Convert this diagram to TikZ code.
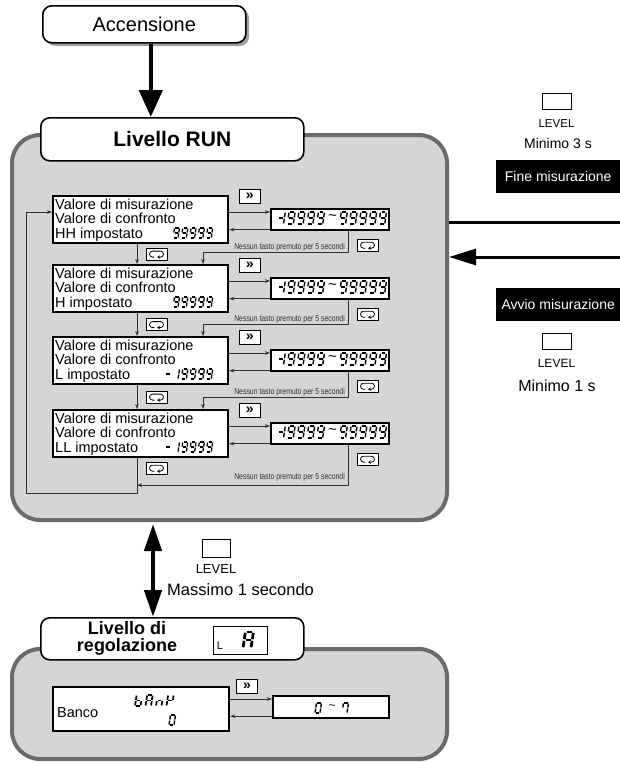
\documentclass[tikz,border=0pt]{standalone}
\usepackage{fontspec}
\setmainfont{Liberation Sans}
\newfontfamily\narrowfont[FakeStretch=0.8]{Liberation Sans}
\usetikzlibrary{arrows.meta,calc}

\definecolor{panelfill}{HTML}{D5D5D7}
\definecolor{panelrim}{HTML}{6B6B6B}
\definecolor{shadowgray}{HTML}{A0A0A0}
\definecolor{linkgray}{HTML}{303030}

% one segment of a seven-segment glyph (unit cell: width 1, height 2)
\newcommand\segpath[1]{%
  \if#1a\draw[segl] (0.18,2) -- (0.82,2);\fi
  \if#1b\draw[segl] (1,1.9) -- (1,1.1);\fi
  \if#1c\draw[segl] (1,0.9) -- (1,0.1);\fi
  \if#1d\draw[segl] (0.18,0) -- (0.82,0);\fi
  \if#1e\draw[segl] (0,0.9) -- (0,0.1);\fi
  \if#1f\draw[segl] (0,1.9) -- (0,1.1);\fi
  \if#1g\draw[segl] (0.18,1) -- (0.82,1);\fi}

% seven-segment string: #1 lower-left point, #2 height, #3 pitch, #4 stroke, #5 glyphs
\newcommand\sevseg[5]{%
  \begin{scope}[shift={#1}]
    \foreach \gl [count=\ci from 0] in {#5}{%
      \begin{scope}[xshift=\ci*#3, xscale=0.5*#2, yscale=-0.5*#2, xslant=-0.15, line width=#4]
        \foreach \s in \gl {\segpath{\s}}
      \end{scope}}
  \end{scope}}

\tikzset{
  panel/.style={fill=panelfill, draw=panelrim, line width=4pt, rounded corners=28pt, inner sep=0pt},
  header/.style={draw=black, fill=white, line width=1.6pt, rounded corners=9pt, inner sep=0pt},
  dispbox/.style={draw=black, fill=white, line width=2.2pt, inner sep=0pt},
  keybox/.style={draw=black, fill=white, line width=0.9pt, minimum width=21pt, minimum height=12pt, inner sep=0pt},
  levelkey/.style={draw=black, fill=white, line width=0.8pt, minimum width=29pt, minimum height=16pt, inner sep=0pt},
  conn/.style={draw=linkgray, line width=0.9pt, -{Stealth[length=5pt,width=3.6pt]}},
  heavy/.style={line width=4.5pt},
  segl/.style={line cap=butt},
  boxtxt/.style={font=\fontsize{14.5}{15}\selectfont, inner sep=0pt, anchor=base west},
  nessun/.style={font=\narrowfont\fontsize{8.6}{9}\selectfont, text=linkgray, inner sep=0pt, anchor=base east},
  lbl/.style={inner sep=0pt, anchor=base},
  blackband/.style={fill=black, text=white, inner sep=0pt, anchor=north west,
    minimum width=124pt, minimum height=33pt, font=\fontsize{14}{16}\selectfont},
  ffkey/.style={keybox, minimum height=14pt, font=\bfseries\fontsize{14}{14}\selectfont},
  looparrow/.pic={\draw[line width=0.8pt, {Stealth[length=2.8pt,width=3.4pt]}-]
    (0.6,3) -- (4,3) arc[start angle=-90,end angle=90,radius=3pt]
    -- (-4,-3) arc[start angle=90,end angle=270,radius=3pt] -- (-2.2,3);},
}

\begin{document}
\begin{tikzpicture}[x=1pt,y=-1pt]
\useasboundingbox (0,0) rectangle (620,763);

% ---------- panels ----------
\node[panel, anchor=north west, minimum width=435pt, minimum height=385pt] (runpanel) at (10,133) {};
\node[panel, anchor=north west, minimum width=435pt, minimum height=110pt] (regpanel) at (10,647) {};

% ---------- power on ----------
\fill[shadowgray, rounded corners=9pt] (46,9) rectangle (249,46);
\node[header, anchor=north west, minimum width=203pt, minimum height=37pt,
      font=\fontsize{20}{24}\selectfont] (acc) at (42,5) {Accensione};
\node[header, anchor=north west, minimum width=263pt, minimum height=43pt,
      font=\bfseries\fontsize{21}{25}\selectfont] (runhdr) at (40,117) {Livello RUN};
\coordinate (accout) at ([xshift=6.5pt]acc.south);
\draw[heavy, -{Triangle[length=27pt,width=23pt]}] (accout) -- (accout |- runhdr.north);

% ---------- RUN level rows ----------
\foreach \i/\yt/\lab/\neg in {1/195/HH/0, 2/264/H/0, 3/336/L/1, 4/409/LL/1}{
  \node[dispbox, anchor=north west, minimum width=175pt, minimum height=47pt] (L\i) at (52,\yt) {};
  \node[dispbox, anchor=north west, minimum width=118pt, minimum height=21pt] (R\i) at (270,\yt+13) {};
  \node[boxtxt] (La\i) at (55,\yt+14) {Valore di misurazione};
  \node[boxtxt] (Lb\i) at (55,\yt+28) {Valore di confronto};
  \node[boxtxt] (Lc\i) at (55,\yt+43) {\lab{} impostato};
  \ifnum\neg=1
    \sevseg{(164.7,\yt+43)}{10}{8.3}{1.3pt}{{g},{b,c},{a,b,c,d,f,g},{a,b,c,d,f,g},{a,b,c,d,f,g},{a,b,c,d,f,g}}
  \else
    \sevseg{(173,\yt+43)}{10}{8.3}{1.3pt}{{a,b,c,d,f,g},{a,b,c,d,f,g},{a,b,c,d,f,g},{a,b,c,d,f,g},{a,b,c,d,f,g}}
  \fi
  \sevseg{(277.5,\yt+29)}{12}{9.8}{1.4pt}{{b,c,g},{a,b,c,d,f,g},{a,b,c,d,f,g},{a,b,c,d,f,g},{a,b,c,d,f,g}}
  \node[inner sep=0pt, font=\fontsize{15}{15}\selectfont] (Rt\i) at (332.5,\yt+23) {\textasciitilde};
  \sevseg{(339.5,\yt+29)}{12}{9.8}{1.4pt}{{a,b,c,d,f,g},{a,b,c,d,f,g},{a,b,c,d,f,g},{a,b,c,d,f,g},{a,b,c,d,f,g}}
  % shift key and the two links
  \node[ffkey] (ff\i) at ($(L\i.north east)+(20.5,1)$) {»};
  \coordinate (u\i) at ([yshift=-17pt]L\i.north east);
  \coordinate (d\i) at ([yshift=1.5pt]R\i.south west);
  \draw[conn] (u\i) -- (u\i -| R\i.west);
  \draw[conn] (d\i) -- (d\i -| L\i.east);
  % return key under each value
  \node[keybox] (rk\i) at ($(R\i.south west)+(97.5,14)$) {};
  \pic at (rk\i) {looparrow};
}

% links from row to row
\foreach \i in {1,2,3}{
  \pgfmathtruncatemacro\j{\i+1}
  \draw[conn] ([xshift=85pt]L\i.south west) -- ([xshift=85pt]L\j.north west);
  \node[keybox] (lk\i) at ($(L\i.south west)!0.5!(L\j.north west)+(104.5,0)$) {};
  \pic at (lk\i) {looparrow};
  \draw[conn] ([xshift=78pt]R\i.south west) |- ([xshift=151pt,yshift=12pt]L\j.north west)
              -- ([xshift=151pt]L\j.north west);
  \node[nessun] (ns\i) at ($(L\j.north west)+(293,-15)$) {Nessun tasto premuto per 5 secondi};
}

% last row loops back to the first
\coordinate (loopcorner) at (26,493);
\coordinate (lastin) at ($(L4.south west)+(85,27)$);
\draw[conn] ([xshift=85pt]L4.south west) |- (loopcorner) |- (u1 -| L1.west);
\draw[conn] ([xshift=78pt]R4.south west) |- (lastin);
\node[keybox] (lk4) at ($(L4.south west)+(104.5,10)$) {};
\pic at (lk4) {looparrow};
\node[nessun] (ns4) at (345,479) {Nessun tasto premuto per 5 secondi};

% ---------- measurement stop / start ----------
\coordinate (fineline) at (620,222);
\coordinate (avvioline) at (620,257);
\draw[line width=3pt] (fineline) -- (fineline -| runpanel.east);
\draw[line width=3pt, -{Triangle[length=27pt,width=16pt]}] (avvioline) -- (avvioline -| runpanel.east);

\node[levelkey] (keyA) at (556.5,101) {};
\node[lbl, font=\fontsize{11.5}{13}\selectfont] (keyAt) at (556.5,127) {LEVEL};
\node[lbl, font=\fontsize{14}{16}\selectfont] (keyAm) at (558,148) {Minimo 3 s};
\node[blackband] (fine) at (496,160) {Fine misurazione};

\node[blackband] (avvio) at (496,288) {Avvio misurazione};
\node[levelkey] (keyB) at (556.5,341) {};
\node[lbl, font=\fontsize{12}{14}\selectfont] (keyBt) at (556.5,367) {LEVEL};
\node[lbl, font=\fontsize{16}{18}\selectfont] (keyBm) at (557,391) {Minimo 1 s};

% ---------- transfer to adjustment level ----------
\node[header, anchor=north west, minimum width=263pt, minimum height=42pt] (reghdr) at (40,617) {};
\node[font=\bfseries\fontsize{18}{17}\selectfont, align=center, inner sep=0pt] (reghdrt) at (127,638) {Livello di\\regolazione};
\node[draw, fill=white, line width=0.9pt, anchor=north west, minimum width=54pt, minimum height=28pt, inner sep=0pt] (labox) at (213,626) {};
\node[lbl, font=\fontsize{11}{12}\selectfont] (laL) at (220,649) {L};
\sevseg{(243,648)}{16}{10}{2.7pt}{{a,b,c,e,f,g}}

\coordinate (dbl) at (153,0);
\draw[heavy, {Triangle[length=27pt,width=17pt]}-{Triangle[length=27pt,width=17pt]}]
  ([yshift=-2pt]runpanel.south -| dbl) -- (reghdr.north -| dbl);
\node[levelkey, minimum width=28pt, minimum height=18pt] (keyC) at (216,548) {};
\node[lbl, font=\fontsize{13}{15}\selectfont] (keyCt) at (216,573) {LEVEL};
\node[inner sep=0pt, anchor=base west, font=\fontsize{16.5}{18}\selectfont] (keyCm) at (167,595) {Massimo 1 secondo};

% ---------- bank row ----------
\node[dispbox, anchor=north west, minimum width=176pt, minimum height=44pt] (banco) at (52,686) {};
\node[boxtxt] (bancot) at (57,717) {Banco};
\sevseg{(135,706)}{11}{10.5}{1.7pt}{{c,d,e,f,g},{a,b,c,e,f,g},{c,e,g},{b,e,f,g}}
\sevseg{(169,725)}{10}{8}{1.4pt}{{a,b,c,d,e,f}}
\node[dispbox, anchor=north west, minimum width=116pt, minimum height=22pt] (bankval) at (272,695) {};
\sevseg{(315,713)}{10}{8}{1.4pt}{{a,b,c,d,e,f}}
\node[inner sep=0pt, font=\fontsize{12}{12}\selectfont] (bankt) at (332,707) {\textasciitilde};
\sevseg{(342,713)}{10}{8}{1.4pt}{{a,b,c,f}}
\node[ffkey] (ffb) at (247,686) {»};
\coordinate (ub) at ([yshift=-4pt]bankval.north west);
\coordinate (db) at ([yshift=3pt]bankval.south west);
\draw[conn] (ub -| banco.east) -- (ub);
\draw[conn] (db) -- (db -| banco.east);
\end{tikzpicture}
\end{document}
